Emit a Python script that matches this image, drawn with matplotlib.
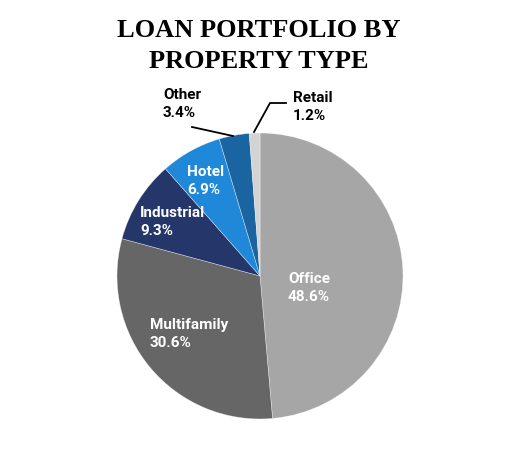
import matplotlib
matplotlib.use("Agg")
import matplotlib.pyplot as plt

categories = ["Office", "Multifamily", "Industrial", "Hotel", "Other", "Retail"]
values = [48.6, 30.6, 9.3, 6.9, 3.4, 1.2]
colors = ["#A6A6A6", "#666666", "#24366A", "#1F88D8", "#1B64A2", "#D3D3D3"]
title_lines = ["LOAN PORTFOLIO BY", "PROPERTY TYPE"]

W, H = 518, 460
fig = plt.figure(figsize=(W / 100, H / 100), dpi=100)
ax = fig.add_axes([0, 0, 1, 1])

cx, cy, r = 260, H - 277, 143
ax.pie(values, colors=colors, startangle=90, counterclock=False,
       center=(cx, cy), radius=r, frame=True,
       wedgeprops=dict(edgecolor=(1, 1, 1, 0.6), linewidth=0.4))
ax.set_xlim(0, W)
ax.set_ylim(0, H)
ax.set_aspect("equal")
ax.axis("off")

for line, ypx in zip(title_lines, [31, 62]):
    fig.text(0.5, 1 - ypx / H, line, ha="center", va="center",
             fontfamily="Liberation Serif", fontweight="bold", fontsize=19)

lab_font = dict(fontfamily="Roboto", fontweight="bold", fontsize=11,
                linespacing=1.3, ha="left", va="center")
# (x, y top-down) in pixel layout, text colour
label_pos = {
    "Office": (288, 288, "white"),
    "Multifamily": (150, 334, "white"),
    "Industrial": (140, 222, "white"),
    "Hotel": (187, 181, "white"),
    "Other": (163, 104, "black"),
    "Retail": (293, 107, "black"),
}
for cat, val in zip(categories, values):
    x, y, c = label_pos[cat]
    ax.text(x, H - y, f"{cat}\n{val:.1f}%", color=c, **lab_font)

# leader lines
ax.plot([192, 233], [H - 128, H - 137], color="black", lw=1.3)
ax.plot([254, 270, 286], [H - 133, H - 104, H - 104], color="black", lw=1.3)

fig.savefig("out.png", dpi=100)
